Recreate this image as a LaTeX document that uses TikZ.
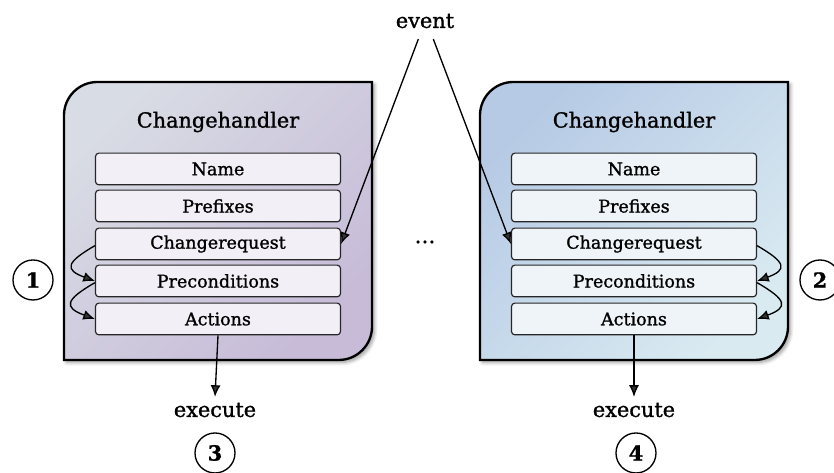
\documentclass[tikz,border=0pt]{standalone}
\usepackage{fontspec}
\setmainfont{DejaVu Serif}[FakeBold=1.2]
\usetikzlibrary{arrows.meta,shadows.blur}

\definecolor{handlerLa}{HTML}{D8DCE4}
\definecolor{handlerLb}{HTML}{C7BBD8}
\definecolor{handlerRa}{HTML}{B6CAE5}
\definecolor{handlerRb}{HTML}{D9EAF1}
\definecolor{fieldL}{HTML}{F2F0F6}
\definecolor{fieldR}{HTML}{EFF4F8}

\tikzset{
	handler/.style={line width=1.4pt, draw=black, shading angle=45,
		blur shadow={shadow xshift=1.5pt, shadow yshift=-1.5pt, shadow blur steps=6}},
	field/.style={draw=black!85, line width=0.7pt, rounded corners=2pt, minimum width=147pt,
		minimum height=19pt, inner sep=0pt, font=\fontsize{10.5}{12}\selectfont},
	title/.style={font=\fontsize{12.5}{14}\selectfont},
	label/.style={font=\fontsize{12.5}{14}\selectfont},
	stepmark/.style={circle, draw, line width=0.8pt, minimum size=24pt, inner sep=0pt,
		font=\fontsize{12.5}{14}\selectfont\bfseries},
	link/.style={line width=0.8pt, -{Latex[length=7pt,width=6pt]}},
	loop/.style={link, looseness=2.4}
}

\begin{document}
\begin{tikzpicture}[x=0.6pt, y=0.6pt]
	\useasboundingbox (0,0) rectangle (834,473);

	% the two handlers
	\path [handler, top color=handlerLa, bottom color=handlerLb, shading angle=45]
		(64,250) [rounded corners=20pt] -- (64,391) [rounded corners=0] -- (372,391)
		[rounded corners=20pt] -- (372,113) [rounded corners=0] -- (64,113) -- cycle;
	\path [handler, top color=handlerRa, bottom color=handlerRb, shading angle=45]
		(480,250) [rounded corners=20pt] -- (480,391) [rounded corners=0] -- (788,391)
		[rounded corners=20pt] -- (788,113) [rounded corners=0] -- (480,113) -- cycle;

	\node [title] (titleA) at (218,351) {Changehandler};
	\node [title] (titleB) at (634,351) {Changehandler};

	\node [field, fill=fieldL] (nmA) at (218,304) {Name};
	\node [field, fill=fieldL] (pfA) at (218,267) {Prefixes};
	\node [field, fill=fieldL] (crA) at (218,229) {Changerequest};
	\node [field, fill=fieldL] (pcA) at (218,192) {Preconditions};
	\node [field, fill=fieldL] (acA) at (218,154) {Actions};

	\node [field, fill=fieldR] (nmB) at (634,304) {Name};
	\node [field, fill=fieldR] (pfB) at (634,267) {Prefixes};
	\node [field, fill=fieldR] (crB) at (634,229) {Changerequest};
	\node [field, fill=fieldR] (pcB) at (634,192) {Preconditions};
	\node [field, fill=fieldR] (acB) at (634,154) {Actions};

	\node [label] (event) at (425,452) {event};
	\node [label] (dots) at (425,231) {\dots};
	\node [label] (exA) at (215,63) {execute};
	\node [label] (exB) at (634,63) {execute};

	\node [stepmark] (one) at (33,193) {1};
	\node [stepmark] (two) at (820,193) {2};
	\node [stepmark] (three) at (215,20) {3};
	\node [stepmark] (four) at (636,20) {4};

	% incoming event
	\draw [link] ([xshift=-4pt, yshift=-3pt]event.south) -- (crA.east);
	\draw [link] ([xshift=5pt, yshift=-3pt]event.south) -- (crB.west);

	% request -> preconditions -> actions
	\draw [loop] ([yshift=-1pt]crA.west) to [out=210, in=160] (pcA.west);
	\draw [loop] ([yshift=-1pt]pcA.west) to [out=210, in=160] (acA.west);
	\draw [loop] ([yshift=-1pt]crB.east) to [out=-30, in=20] (pcB.east);
	\draw [loop] ([yshift=-1pt]pcB.east) to [out=-30, in=20] (acB.east);

	\draw [link] (acA.south) -- (exA.north);
	\draw [link] (acB.south) -- (exB.north);
\end{tikzpicture}
\end{document}
